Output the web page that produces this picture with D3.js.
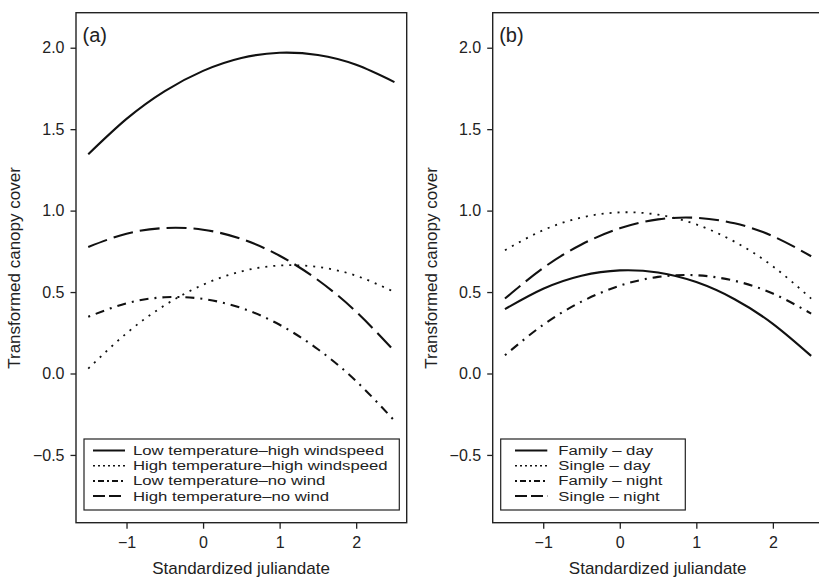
<!DOCTYPE html>
<html>
<head>
<meta charset="utf-8">
<script src="https://cdn.jsdelivr.net/npm/d3@7"></script>
<style>
  body { margin: 0; background: #fff; }
  text { font-family: "Liberation Sans", Arial, sans-serif; fill: #222; }
</style>
</head>
<body>
<script>
// standardized julian date grid the fitted curves are read at
var xGrid = [-1.5, -1, -0.5, 0, 0.5, 1, 1.5, 2, 2.5];

// panel (a)
var lowTempHighWind  = [1.346, 1.563, 1.734, 1.858, 1.937, 1.969, 1.955, 1.895, 1.789];
var highTempHighWind = [0.030, 0.247, 0.419, 0.545, 0.627, 0.663, 0.654, 0.600, 0.500];
var lowTempNoWind    = [0.348, 0.431, 0.468, 0.458, 0.402, 0.299, 0.149, -0.047, -0.290];
var highTempNoWind   = [0.777, 0.858, 0.893, 0.883, 0.826, 0.723, 0.574, 0.379, 0.137];

// panel (b)
var familyDay   = [0.395, 0.520, 0.600, 0.633, 0.620, 0.561, 0.456, 0.305, 0.108];
var singleDay   = [0.757, 0.880, 0.958, 0.989, 0.975, 0.915, 0.809, 0.658, 0.460];
var familyNight = [0.112, 0.299, 0.441, 0.539, 0.593, 0.603, 0.569, 0.491, 0.368];
var singleNight = [0.460, 0.648, 0.792, 0.891, 0.946, 0.956, 0.922, 0.843, 0.720];

var labelsA = ["Low temperature\u2013high windspeed", "High temperature\u2013high windspeed",
               "Low temperature\u2013no wind", "High temperature\u2013no wind"];
var labelsB = ["Family \u2013 day", "Single \u2013 day", "Family \u2013 night", "Single \u2013 night"];

var xTicks = [-1, 0, 1, 2];
var yTicks = [-0.5, 0, 0.5, 1.0, 1.5, 2.0];

var width = 819, height = 578;

// solid, dotted, dot-dash, long dash
var dashes = [null, "2,6", "2,6,9,6", "20,7"];
var legendDashes = [null, "2,3", "2,3,6,3", "12,4"];

var svg = d3.select("body").append("svg")
    .attr("width", width)
    .attr("height", height);

var y = d3.scaleLinear()
    .domain([-0.916, 2.215])
    .range([522.7, 12.7]);

function minus(s, d) { return (d < 0 ? "\u2212" : "") + s; }
var fmtX = function(d){ return minus(String(Math.abs(d)), d); };
var fmtY = function(d){ return minus(Math.abs(d).toFixed(1), d); };

function panel(left, tag, series, labels, legendBox) {
  var x = d3.scaleLinear()
      .domain([-1.66, 2.66])
      .range([left, left + 330.7]);

  var g = svg.append("g");

  // x axis
  var xa = g.append("g")
      .attr("transform", "translate(0,522.7)")
      .call(d3.axisBottom(x).tickValues(xTicks).tickSize(6).tickPadding(8)
        .tickFormat(fmtX));
  xa.select(".domain").remove();
  xa.selectAll("line").attr("stroke", "#222").attr("stroke-width", 1.3);
  xa.selectAll("text").style("font-size", "16px").attr("fill", "#222");

  // y axis
  var ya = g.append("g")
      .attr("transform", "translate(" + left + ",0)")
      .call(d3.axisLeft(y).tickValues(yTicks).tickSize(5.5).tickPadding(6)
        .tickFormat(fmtY));
  ya.select(".domain").remove();
  ya.selectAll("line").attr("stroke", "#222").attr("stroke-width", 1.3);
  ya.selectAll("text").style("font-size", "16px").attr("fill", "#222");

  // frame
  g.append("rect")
      .attr("x", left).attr("y", 12.7)
      .attr("width", 330.7).attr("height", 510)
      .attr("fill", "none").attr("stroke", "#222").attr("stroke-width", 1.4);

  // curves
  var line = d3.line()
      .x(function(d){ return x(d[0]); })
      .y(function(d){ return y(d[1]); })
      .curve(d3.curveNatural);

  series.forEach(function(vals, i){
    g.append("path")
        .datum(xGrid.map(function(xv, j){ return [xv, vals[j]]; }))
        .attr("d", line)
        .attr("fill", "none")
        .attr("stroke", "#111")
        .attr("stroke-width", i == 1 ? 1.8 : 2.1)
        .attr("stroke-dasharray", dashes[i]);
  });

  // panel tag
  g.append("text")
      .attr("x", left + 6.5).attr("y", 42)
      .style("font-size", "20px")
      .text(tag);

  // axis titles
  g.append("text")
      .attr("x", left + 165).attr("y", 574)
      .attr("text-anchor", "middle")
      .style("font-size", "17px")
      .text("Standardized juliandate");

  g.append("text")
      .attr("transform", "translate(" + (left - 56) + ",268) rotate(-90)")
      .attr("text-anchor", "middle")
      .style("font-size", "17px")
      .text("Transformed canopy cover");

  // legend
  var lg = g.append("g");
  lg.append("rect")
      .attr("x", legendBox.x).attr("y", 439)
      .attr("width", legendBox.w).attr("height", 71)
      .attr("fill", "#fff").attr("stroke", "#222").attr("stroke-width", 1.2);

  labels.forEach(function(lab, i){
    var by = 455 + i * 15.2;
    lg.append("line")
        .attr("x1", legendBox.x + legendBox.l0).attr("x2", legendBox.x + legendBox.l1)
        .attr("y1", by - 4.5).attr("y2", by - 4.5)
        .attr("stroke", "#111")
        .attr("stroke-width", i == 1 ? 1.6 : 2)
        .attr("stroke-dasharray", legendDashes[i]);
    lg.append("text")
        .attr("transform", "translate(" + (legendBox.x + legendBox.t0) + "," + by + ") scale(1.24,1)")
        .style("font-size", "13.5px")
        .text(lab);
  });
}

panel(76, "(a)", [lowTempHighWind, highTempHighWind, lowTempNoWind, highTempNoWind], labelsA,
      {x: 84, w: 315.3, l0: 9, l1: 41, t0: 49});
panel(492.7, "(b)", [familyDay, singleDay, familyNight, singleNight], labelsB,
      {x: 500.7, w: 184.6, l0: 14.3, l1: 46.6, t0: 57.6});
</script>
</body>
</html>
